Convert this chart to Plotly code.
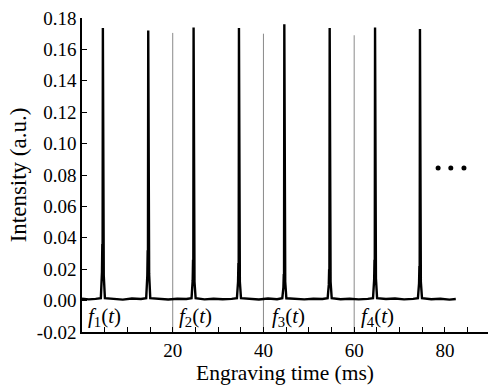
import plotly.graph_objects as go

# ---- data ----
peak_times = [4.6, 14.6, 24.6, 34.6, 44.6, 54.6, 64.6, 74.5]
peak_heights = [0.1737, 0.172, 0.174, 0.1737, 0.176, 0.1737, 0.174, 0.173]
shoulder_left = [0.036, 0.032, 0.026, 0.024, 0.017, 0.020, 0.026, 0.022]
shoulder_right = [0.016, 0.017, 0.012, 0.012, 0.012, 0.012, 0.014, 0.012]
second_spike = [0.016, 0.017, 0.020, 0.088, 0.047, 0.052, 0.148, 0.067]

baseline_t = [0.0, 1.5, 3.0, 7.0, 9.0, 11.0, 13.0, 17.0, 19.0, 21.0, 23.0,
              27.0, 29.0, 31.0, 33.0, 37.0, 39.0, 41.0, 43.0, 47.0, 49.0,
              51.0, 53.0, 57.0, 59.0, 61.0, 63.0, 67.0, 69.0, 71.0, 73.0,
              77.0, 79.0, 81.0, 82.4]
baseline_v = [0.0012, 0.0008, 0.0011, 0.0009, 0.0006, 0.0013, 0.0010, 0.0011,
              0.0007, 0.0012, 0.0010, 0.0008, 0.0012, 0.0009, 0.0011, 0.0010,
              0.0007, 0.0013, 0.0009, 0.0011, 0.0008, 0.0012, 0.0010, 0.0009,
              0.0012, 0.0008, 0.0011, 0.0010, 0.0013, 0.0008, 0.0011, 0.0009,
              0.0012, 0.0006, 0.0010]

divider_x = [20, 40, 60]
divider_top = [0.1705, 0.170, 0.169]

label_x = [5.0, 25.0, 45.6, 65.2]
label_y = [-0.0105, -0.0105, -0.0105, -0.0105]
label_idx = ["1", "2", "3", "4"]

ellipsis_x = [78.5, 81.3, 84.2]
ellipsis_y = [0.0845, 0.0845, 0.0845]

x_tick_vals = [20, 40, 60, 80]
x_tick_text = ["20", "40", "60", "80"]
y_tick_vals = [-0.02, 0.00, 0.02, 0.04, 0.06, 0.08, 0.10, 0.12, 0.14, 0.16, 0.18]
y_tick_text = ["-0.02", "0.00", "0.02", "0.04", "0.06", "0.08", "0.10",
               "0.12", "0.14", "0.16", "0.18"]

# ---- build signal from read values ----
pts = list(zip(baseline_t, baseline_v))
for p, h, sl, sr, s2 in zip(peak_times, peak_heights, shoulder_left,
                             shoulder_right, second_spike):
    pts += [
        (p - 0.45, 0.0015),
        (p - 0.2, sl * 0.5),
        (p - 0.12, sl),
        (p - 0.06, sl * 0.7),
        (p, h),
        (p + 0.06, sr),
        (p + 0.12, s2),
        (p + 0.2, sr),
        (p + 0.45, 0.0015),
    ]
pts.sort()
sig_t = [a for a, b in pts]
sig_v = [b for a, b in pts]

FONT = "Liberation Serif, Times New Roman, serif"

fig = go.Figure()

for dx, dt in zip(divider_x, divider_top):
    fig.add_trace(go.Scatter(x=[dx, dx], y=[-0.02, dt], mode="lines",
                             line=dict(color="#8a8a8a", width=1),
                             showlegend=False, hoverinfo="skip"))

fig.add_trace(go.Scatter(x=sig_t, y=sig_v, mode="lines",
                         line=dict(color="black", width=2.4),
                         showlegend=False))

fig.add_trace(go.Scatter(x=ellipsis_x, y=ellipsis_y, mode="markers",
                         marker=dict(color="black", size=5),
                         showlegend=False))

for lx, ly, li in zip(label_x, label_y, label_idx):
    fig.add_annotation(x=lx, y=ly, xref="x", yref="y",
                       text=f"<i>f</i><sub>{li}</sub>(<i>t</i>)",
                       showarrow=False,
                       font=dict(family=FONT, size=21, color="black"))

fig.update_layout(
    width=488, height=385,
    margin=dict(l=82, r=0, t=18, b=53, autoexpand=False),
    paper_bgcolor="white", plot_bgcolor="white",
    font=dict(family=FONT, color="black", size=18),
    xaxis=dict(range=[0, 89.5], tickvals=x_tick_vals, ticktext=x_tick_text,
               ticks="inside", ticklen=5, tickwidth=1, tickcolor="black",
               minor=dict(dtick=5, tick0=0, ticks="inside", ticklen=5,
                          tickwidth=1, tickcolor="black", showgrid=False),
               showline=True, linecolor="black", linewidth=1.5,
               showgrid=False, zeroline=False, automargin=False,
               tickfont=dict(family=FONT, size=19, color="black"),
               title=dict(text="Engraving time (ms)",
                          font=dict(family=FONT, size=21.5, color="black"),
                          standoff=3)),
    yaxis=dict(range=[-0.02, 0.18], tickvals=y_tick_vals, ticktext=y_tick_text,
               ticks="inside", ticklen=5, tickwidth=1, tickcolor="black",
               showline=True, linecolor="black", linewidth=1.5,
               showgrid=False, zeroline=False, automargin=False,
               tickfont=dict(family=FONT, size=19, color="black"),
               title=dict(text="Intensity (a.u.)",
                          font=dict(family=FONT, size=23, color="black"),
                          standoff=4)),
)

fig.write_html("out.html",
               config={"displayModeBar": False},
               post_script="document.body.style.margin='0';"
                           "document.body.style.overflow='hidden';")
